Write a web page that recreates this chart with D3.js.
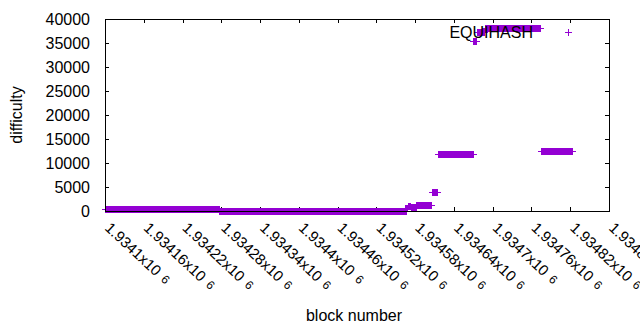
<!DOCTYPE html>
<html>
<head>
<meta charset="utf-8">
<script src="https://cdn.jsdelivr.net/npm/d3@7"></script>
<style>
  body { margin: 0; background: #fff; }
  text { font-family: "Liberation Sans", Arial, sans-serif; fill: #000; }
</style>
</head>
<body>
<svg id="chart" width="640" height="330"></svg>
<script>
// runs of blocks with the same difficulty
const runStart = [1934100, 1934277, 1934564, 1934569, 1934573, 1934578, 1934582, 1934606, 1934615, 1934670, 1934675, 1934688, 1934774];
const runEnd   = [1934276, 1934566, 1934568, 1934572, 1934577, 1934581, 1934605, 1934614, 1934669, 1934674, 1934687, 1934773, 1934822];
const runValue = [400, 100, 600, 1100, 800, 900, 1250, 3900, 11800, 35400, 37200, 38200, 12400];

const xTicks = [1934100, 1934160, 1934220, 1934280, 1934340, 1934400, 1934460, 1934520, 1934580, 1934640, 1934700, 1934760, 1934820, 1934880];
const xTickLabels = ["1.9341", "1.93416", "1.93422", "1.93428", "1.93434", "1.9344", "1.93446", "1.93452", "1.93458", "1.93464", "1.9347", "1.93476", "1.93482", "1.93488"];
const yTicks = [0, 5000, 10000, 15000, 20000, 25000, 30000, 35000, 40000];

const seriesName = "EQUIHASH";
const color = "#9400d3";

const svg = d3.select("#chart");
const plotLeft = 105, plotRight = 609, plotTop = 19, plotBottom = 211;

const x = d3.scaleLinear().domain([1934100, 1934880]).range([plotLeft, plotRight]);
const y = d3.scaleLinear().domain([0, 40000]).range([plotBottom, plotTop]);

// one point per block
const points = [];
runStart.forEach((s, i) => {
  for (let b = s; b <= runEnd[i]; b++) points.push({ block: b, value: runValue[i] });
});

// plus marker path, snapped to pixels
const ps = 3.5;
const plus = (px, py) => {
  const cx = Math.round(px) + 0.5, cy = Math.round(py) + 0.5;
  return `M${cx - ps},${cy}H${cx + ps}M${cx},${cy - ps}V${cy + ps}`;
};

// axes (ticks inward, mirrored)
const tickLen = 4;
const axisG = svg.append("g").attr("shape-rendering", "crispEdges");
xTicks.forEach((t) => {
  const tx = Math.round(x(t)) + 0.5;
  axisG.append("line").attr("x1", tx).attr("x2", tx).attr("y1", plotBottom).attr("y2", plotBottom - tickLen).attr("stroke", "#000");
  axisG.append("line").attr("x1", tx).attr("x2", tx).attr("y1", plotTop).attr("y2", plotTop + tickLen).attr("stroke", "#000");
});
yTicks.forEach((t) => {
  const ty = Math.round(y(t)) + 0.5;
  axisG.append("line").attr("x1", plotLeft).attr("x2", plotLeft + tickLen).attr("y1", ty).attr("y2", ty).attr("stroke", "#000");
  axisG.append("line").attr("x1", plotRight).attr("x2", plotRight - tickLen).attr("y1", ty).attr("y2", ty).attr("stroke", "#000");
  svg.append("text")
    .attr("x", 90)
    .attr("y", y(t) + 5.5)
    .attr("text-anchor", "end")
    .style("font-size", "16px")
    .text(d3.format("d")(t));
});

// x tick labels, rotated
xTicks.forEach((t, i) => {
  const lbl = svg.append("text")
    .attr("transform", `translate(${x(t) - 1},${229}) rotate(43)`)
    .style("font-size", "15px");
  lbl.append("tspan").text(xTickLabels[i] + "x10");
  lbl.append("tspan").attr("dx", 6).attr("dy", -1).style("font-size", "12px").text("6");
});

// data points
svg.append("path")
  .attr("d", points.map((d) => plus(x(d.block), y(d.value))).join(""))
  .attr("fill", "none")
  .attr("stroke", color)
  .attr("stroke-width", 1)
  .attr("shape-rendering", "crispEdges");

// border
svg.append("rect")
  .attr("x", plotLeft + 0.5).attr("y", plotTop + 0.5)
  .attr("width", plotRight - plotLeft).attr("height", plotBottom - plotTop)
  .attr("fill", "none").attr("stroke", "#000")
  .attr("shape-rendering", "crispEdges");

// key
svg.append("text")
  .attr("x", 533).attr("y", 38)
  .attr("text-anchor", "end")
  .style("font-size", "16px")
  .text(seriesName);
svg.append("path")
  .attr("d", plus(568, 32))
  .attr("stroke", color).attr("fill", "none")
  .attr("shape-rendering", "crispEdges");

// axis titles
svg.append("text")
  .attr("transform", "translate(22,115) rotate(-90)")
  .attr("text-anchor", "middle")
  .style("font-size", "16px")
  .text("difficulty");
svg.append("text")
  .attr("x", 354).attr("y", 321)
  .attr("text-anchor", "middle")
  .style("font-size", "16px")
  .text("block number");
</script>
</body>
</html>
